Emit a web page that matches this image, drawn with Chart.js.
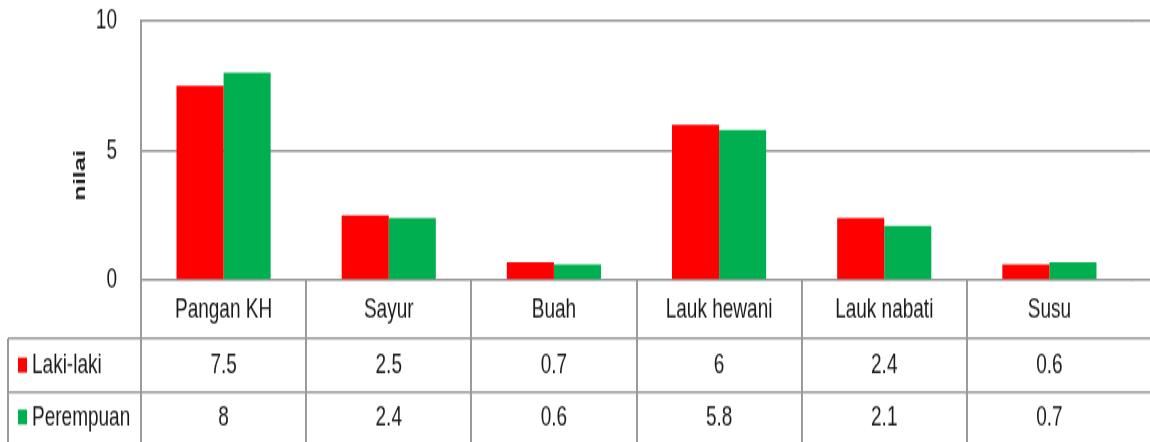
<!DOCTYPE html>
<html>
<head>
<meta charset="utf-8">
<script src="https://cdn.jsdelivr.net/npm/chart.js@4/dist/chart.umd.min.js"></script>
<style>
html{overflow:hidden;background:#fff;}
body{margin:0;padding:0;background:#fff;width:1150px;height:442px;}
#wrap{width:1150px;height:295px;transform:scaleY(1.4983);transform-origin:0 0;}
</style>
</head>
<body>
<div id="wrap"><canvas id="chart" width="1150" height="295" style="width:1150px;height:295px"></canvas></div>
<script>

/* DATA */

const categories = ["Pangan KH","Sayur","Buah","Lauk hewani","Lauk nabati","Susu"];
const seriesNames = ["Laki-laki","Perempuan"];
const lakiLaki = [7.5,2.5,0.7,6,2.4,0.6];
const perempuan = [8,2.4,0.6,5.8,2.1,0.7];
const yTicks = [0,5,10];
const yTitle = "nilai";

const COLORS = ["#ff0000","#00b050"];
const LINE = "#9a9a9a";
const TEXT = "#1a1a1a";
const FONT = '"Liberation Sans", Arial, sans-serif';

/* meme alignement que Chart.js */
function align(p,w){
return Math.round(p-w/2)+w/2;
}

/* TABLE + TITLE */

const tablePlugin = {
id:'dataTable',
afterDraw(chart){

let ctx = chart.ctx;
let area = chart.chartArea;
let xs = chart.scales.x;
let W = chart.width;
let H = chart.height;
let n = categories.length;
let catW = (area.right-area.left)/n;

let row0 = area.bottom;
let row1 = row0+39;
let row2 = row1+35.3;

ctx.save();

/* lignes horizontales */
ctx.strokeStyle = LINE;
ctx.lineWidth = 1.5;

chart.scales.y.ticks.forEach(t=>{
let y = align(chart.scales.y.getPixelForValue(t.value),1.5);
ctx.beginPath();ctx.moveTo(area.right-1,y);ctx.lineTo(W,y);ctx.stroke();
});

[row1,row2].forEach(y=>{
y = align(y,1.5);
ctx.beginPath();ctx.moveTo(8,y);ctx.lineTo(W,y);ctx.stroke();
});

/* lignes verticales */
ctx.lineWidth = 2;
for(let i=0;i<n;i++){
let x = align(xs.getPixelForValue(i)-catW/2,2);
ctx.beginPath();ctx.moveTo(x,row0);ctx.lineTo(x,H);ctx.stroke();
}
ctx.beginPath();ctx.moveTo(8,row1);ctx.lineTo(8,H);ctx.stroke();

/* textes */
ctx.fillStyle = TEXT;
ctx.font = '19px '+FONT;
ctx.textAlign = 'center';
ctx.textBaseline = 'middle';

let rows = [lakiLaki,perempuan];
categories.forEach((c,i)=>{
let cx = xs.getPixelForValue(i);
ctx.fillText(c,cx,(row0+row1)/2);
ctx.fillText(String(rows[0][i]),cx,(row1+row2)/2);
ctx.fillText(String(rows[1][i]),cx,row2+17);
});

/* legende */
ctx.textAlign = 'left';
let legY = [(row1+row2)/2,row2+17];
seriesNames.forEach((s,k)=>{
ctx.fillStyle = COLORS[k];
ctx.fillRect(18,legY[k]-5,9,10);
ctx.fillStyle = TEXT;
ctx.fillText(s,32,legY[k]);
});

/* titre axe */
ctx.font = 'bold 17px '+FONT;
ctx.textAlign = 'center';
ctx.translate(80,117);
ctx.rotate(-Math.PI/2);
ctx.fillText(yTitle,0,0);

ctx.restore();

}
};

/* GRAPH */

new Chart(document.getElementById("chart"),{

type:'bar',

data:{
labels:categories,
datasets:[
{label:seriesNames[0],data:lakiLaki,backgroundColor:COLORS[0],borderWidth:0},
{label:seriesNames[1],data:perempuan,backgroundColor:COLORS[1],borderWidth:0}
]
},

options:{
responsive:false,
animation:false,
layout:{padding:{top:14,right:18,bottom:108,left:0}},
datasets:{bar:{categoryPercentage:0.57,barPercentage:1.0}},

plugins:{
legend:{display:false},
tooltip:{enabled:false}
},

scales:{
x:{
display:false
},
y:{
min:0,
max:10,
afterFit:(s)=>{s.width=141;},
afterBuildTicks:(s)=>{s.ticks=yTicks.map(v=>({value:v}));},
ticks:{color:TEXT,font:{family:FONT,size:19},padding:2},
grid:{color:LINE,lineWidth:1.5,drawTicks:true,tickLength:22,tickColor:'rgba(0,0,0,0)'},
border:{display:true,color:LINE,width:2}
}
}

},

plugins:[tablePlugin]

});

</script>
</body>
</html>
